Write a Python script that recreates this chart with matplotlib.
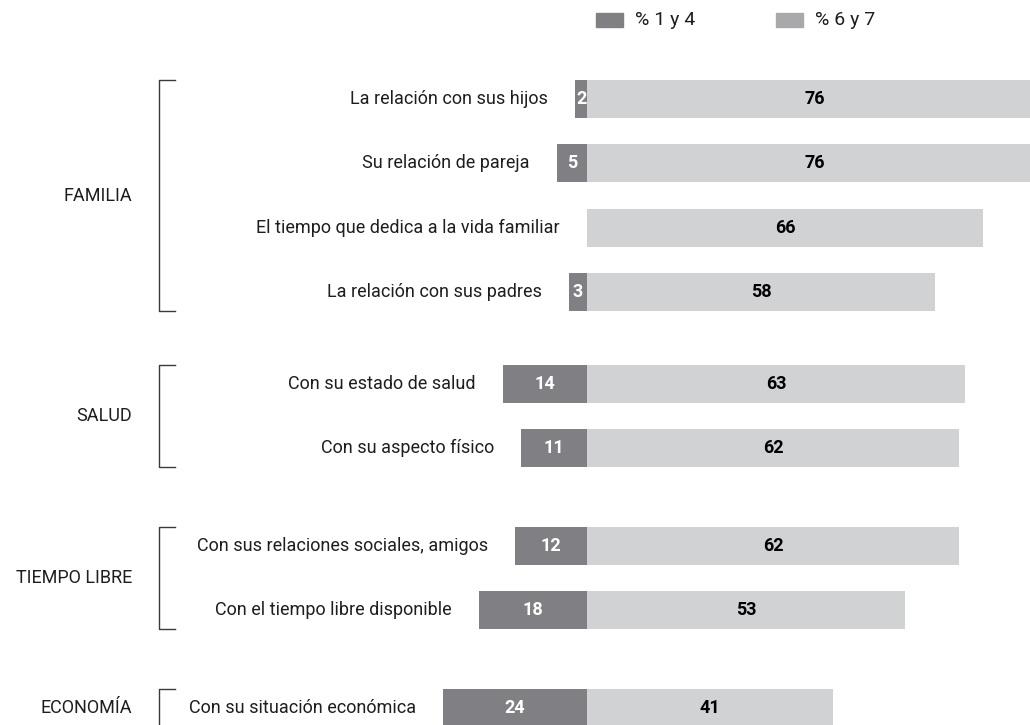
import numpy as np
import matplotlib.pyplot as plt
import matplotlib.transforms as mtransforms
from matplotlib.patches import Rectangle

groups = ["FAMILIA", "SALUD", "TIEMPO LIBRE", "ECONOMÍA"]
group_sizes = [4, 2, 2, 1]
items = [
    "La relación con sus hijos",
    "Su relación de pareja",
    "El tiempo que dedica a la vida familiar",
    "La relación con sus padres",
    "Con su estado de salud",
    "Con su aspecto físico",
    "Con sus relaciones sociales, amigos",
    "Con el tiempo libre disponible",
    "Con su situación económica",
]
low = [2, 5, 0, 3, 14, 11, 12, 18, 24]      # % 1 y 4
high = [76, 76, 66, 58, 63, 62, 62, 53, 41]  # % 6 y 7
legend_labels = ["% 1 y 4", "% 6 y 7"]

dark = "#808084"
light = "#d1d2d4"
legend_light = "#a9a9ac"
text_col = "#1e1e1e"
plt.rcParams['font.family'] = ["Roboto", "DejaVu Sans"]

# row positions, with extra space between groups
gaps = [1.42, 1.52, 1.52]
pos = []
y = 0.0
for gi, n in enumerate(group_sizes):
    if gi > 0:
        y += gaps[gi - 1] - 1
    for k in range(n):
        pos.append(y)
        y += 1
pos = np.array(pos)

fig = plt.figure(figsize=(10.3, 7.25), dpi=100)
ax = fig.add_axes([0, 0, 1, 1])
ax.set_xlim(-97.8, 73.8)
ax.set_ylim(9.72, -1.537)
ax.axis('off')

h = 0.59
ax.barh(pos, -np.array(low), height=h, color=dark)
ax.barh(pos, high, height=h, color=light)

for p, lo, hi, name in zip(pos, low, high, items):
    if lo > 0:
        ax.text(-lo / 2, p, str(lo), ha='center', va='center', color='white',
                fontsize=13, fontweight='bold')
    ax.text(hi / 2, p, str(hi), ha='center', va='center', color='black',
            fontsize=13, fontweight='bold')
    ax.annotate(name, xy=(-lo, p), xytext=(-19.5, 0), textcoords='offset points',
                ha='right', va='center', fontsize=13, color=text_col)

# group labels and brackets
trans = mtransforms.blended_transform_factory(ax.transAxes, ax.transData)
start = 0
for g, n in zip(groups, group_sizes):
    top = pos[start] - h / 2
    bot = pos[start + n - 1] + h / 2
    ax.plot([0.17, 0.154, 0.154, 0.17], [top, top, bot, bot], color='#3a3a3a',
            lw=1, transform=trans, clip_on=False)
    ax.text(0.128, (pos[start] + pos[start + n - 1]) / 2, g, ha='right', va='center',
            fontsize=13, color=text_col, transform=trans)
    start += n

# legend
for x0, c, lab in zip([596, 776], [dark, legend_light], legend_labels):
    fig.patches.append(Rectangle((x0 / 1030, 1 - 27 / 725), 27 / 1030, 14 / 725,
                                 color=c, transform=fig.transFigure))
    fig.text((x0 + 39) / 1030, 1 - 20 / 725, lab, ha='left', va='center',
             fontsize=14, color=text_col)

fig.savefig("out.png", dpi=100)
